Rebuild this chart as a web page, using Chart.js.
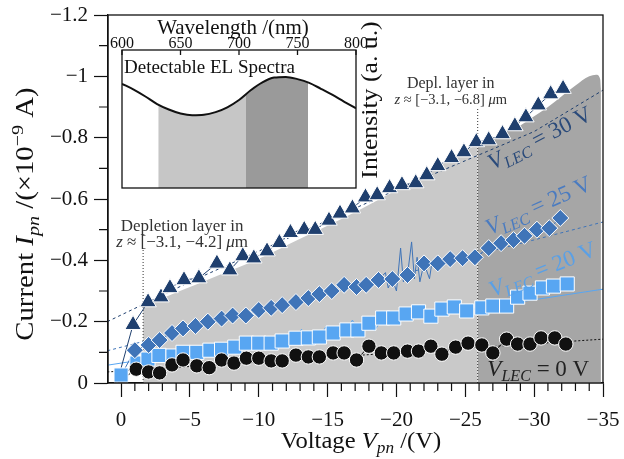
<!DOCTYPE html>
<html>
<head>
<meta charset="utf-8">
<script src="https://cdn.jsdelivr.net/npm/chart.js@4.4.0/dist/chart.umd.min.js"></script>
<style>
  html, body { margin: 0; padding: 0; background: #fff; }
  #wrap  { position: relative; width: 624px; height: 459px; }
  #main  { position: absolute; left: 0; top: 0; }
  #inset { position: absolute; left: 100px; top: 0; }
</style>
</head>
<body>
<div id="wrap">
  <canvas id="main" width="624" height="459"></canvas>
  <canvas id="inset" width="290" height="200"></canvas>
</div>
<script>
"use strict";

/* ── DADOS ──────────────────────────────── */
const xTicks = [0, -5, -10, -15, -20, -25, -30, -35];
const yTicks = [0, -0.2, -0.4, -0.6, -0.8, -1, -1.2];

// V_LEC = 30 V (triângulos)
const vTri = [-0.87,-1.96,-2.9,-3.55,-4.57,-5.65,-6.96,-7.9,-8.84,-9.64,-10.6,-11.5,-12.3,-13.3,-14.1,-15.1,-15.9,-16.8,
              -17.75,-18.6,-19.5,-20.4,-21.4,-22.2,-23.0,-24.0,-24.9,-25.8,-26.7,-27.7,-28.6,-29.4,-30.3,-31.2,-32.1];
const iTri = [-0.19,-0.264,-0.28,-0.31,-0.336,-0.342,-0.39,-0.368,-0.414,-0.407,-0.43,-0.457,-0.49,-0.50,-0.50,-0.53,-0.553,-0.57,
              -0.606,-0.613,-0.636,-0.646,-0.652,-0.678,-0.708,-0.734,-0.753,-0.786,-0.792,-0.812,-0.838,-0.867,-0.906,-0.942,-0.96];

// V_LEC = 25 V (losangos)
const vDia = [-1.0,-2.0,-2.8,-3.7,-4.5,-5.4,-6.3,-7.3,-8.1,-9.06,-10.0,-10.9,-11.7,-12.7,-13.6,-14.4,-15.3,-16.2,-17.1,
              -17.8,-18.7,-19.7,-20.8,-22.0,-23.0,-23.9,-24.8,-25.7,-26.7,-27.6,-28.5,-29.3,-30.2,-31.1,-31.9];
const iDia = [-0.107,-0.124,-0.14,-0.163,-0.178,-0.186,-0.2,-0.21,-0.22,-0.22,-0.238,-0.245,-0.254,-0.264,-0.277,-0.29,-0.30,-0.32,-0.313,
              -0.32,-0.336,-0.339,-0.352,-0.39,-0.39,-0.404,-0.407,-0.41,-0.44,-0.456,-0.466,-0.48,-0.5,-0.505,-0.538];
// picos do sinal bruto (25 V)
const vDiaSpk = [-19.2,-19.4,-20.0,-20.3,-20.5,-21.1,-21.3,-21.5,-21.7,-22.4,-22.6];
const iDiaSpk = [-0.36,-0.31,-0.30,-0.44,-0.33,-0.46,-0.34,-0.41,-0.33,-0.34,-0.40];

// V_LEC = 20 V (quadrados)
const vSq = [0,-1.15,-1.95,-2.75,-3.77,-4.5,-5.5,-6.45,-7.3,-8.26,-9.1,-10.0,-10.9,-11.7,-12.7,-13.6,-14.4,-15.4,-16.4,-17.2,
             -18.0,-19.0,-19.8,-20.7,-21.6,-22.5,-23.3,-24.2,-25.1,-26.2,-27.0,-28.0,-28.8,-29.7,-30.6,-31.4,-32.4];
const iSq = [-0.026,-0.065,-0.078,-0.09,-0.088,-0.1,-0.1,-0.107,-0.11,-0.117,-0.13,-0.13,-0.13,-0.137,-0.146,-0.147,-0.15,-0.163,-0.173,-0.173,
             -0.195,-0.212,-0.212,-0.225,-0.232,-0.218,-0.241,-0.248,-0.235,-0.245,-0.251,-0.251,-0.28,-0.293,-0.31,-0.316,-0.323];
const vSqSpk = [-12.2,-13.1,-14.9,-16.8,-18.4];
const iSqSpk = [-0.16,-0.175,-0.185,-0.205,-0.17];

// V_LEC = 0 V (círculos)
const vCir = [-1.1,-2.0,-2.8,-3.7,-4.5,-5.5,-6.4,-7.3,-8.2,-9.1,-10.0,-10.9,-11.7,-12.7,-13.6,-14.4,-15.4,-16.2,-17.1,
              -18.0,-18.9,-19.8,-20.8,-21.6,-22.5,-23.3,-24.3,-25.2,-26.2,-27.0,-28.0,-28.8,-29.7,-30.5,-31.5,-32.3];
const iCir = [-0.045,-0.036,-0.033,-0.059,-0.075,-0.056,-0.05,-0.075,-0.065,-0.081,-0.081,-0.072,-0.072,-0.091,-0.085,-0.085,-0.098,-0.098,-0.075,
              -0.12,-0.098,-0.098,-0.104,-0.104,-0.12,-0.094,-0.117,-0.13,-0.124,-0.098,-0.143,-0.127,-0.127,-0.147,-0.147,-0.127];

// ajustes (linhas tracejadas / contínua)
const vFit30 = [1, -5, -10, -15, -20, -25, -30, -35];
const iFit30 = [-0.20, -0.33, -0.43, -0.53, -0.63, -0.725, -0.82, -0.955];
const vFit   = [1, -35];
const iFit25 = [-0.105, -0.525];
const iFit20 = [-0.058, -0.306];
const iFit0  = [-0.036, -0.143];

// regiões de depleção (áreas cinza)
const vLight = [-1.6, -4, -7, -10, -13, -16, -19, -22, -25.9];
const iLight = [-0.25, -0.295, -0.35, -0.405, -0.47, -0.535, -0.605, -0.68, -0.78];
const vDark  = [-25.9, -27, -28, -29, -30, -31, -32, -33, -34, -34.5, -34.8, -34.85];
const iDark  = [-0.78, -0.80, -0.82, -0.84, -0.87, -0.90, -0.935, -0.97, -1.0, -1.005, -0.99, -0.96];
const vDepl  = [-1.6, -25.9];
const iDepl  = [-0.44, -0.90];

// inset: espectro EL
const lambda  = [600,610,620,630,640,650,660,670,680,690,700,710,720,730,740,750,760,770,780,790,800];
const intens  = [0.755,0.713,0.663,0.608,0.569,0.540,0.527,0.530,0.550,0.585,0.638,0.708,0.765,0.800,0.805,0.789,0.762,0.719,0.674,0.624,0.577];
const lamLight = [631,640,650,660,670,680,690,700,706];
const intLight = [0.605,0.569,0.540,0.527,0.530,0.550,0.585,0.638,0.68];
const lamDark  = [706,710,720,730,740,750,759];
const intDark  = [0.68,0.708,0.765,0.800,0.805,0.789,0.765];
const lamTicks = [600, 650, 700, 750, 800];

/* ── ESTILO ─────────────────────────────── */
const SERIF = '"Liberation Serif", "Times New Roman", serif';
const NAVY = "#1f3f6e", STEEL = "#3f74b8", SKY = "#58a6f2", INK = "#111";

const pts = (xs, ys) => xs.map((x, i) => ({ x, y: ys[i] }));
const raw = (xs, ys, sx = [], sy = []) =>
  [{ x: 0.3, y: 0 }, ...pts(xs, ys), ...pts(sx, sy)].sort((a, b) => b.x - a.x);
const fmt = v => v === 0 ? "0" : "\u2212" + Math.abs(v);

/* ── TEXTO COM ÍNDICES ──────────────────── */
function richText(ctx, parts, x, y, size, opt = {}) {
  const small = size * 0.7;
  const fontOf = st =>
    st === "i"  ? `italic ${size}px ${SERIF}` :
    st === "sb" ? `italic ${small}px ${SERIF}` :
    st === "sp" ? `${small}px ${SERIF}` : `${size}px ${SERIF}`;
  ctx.save();
  let w = 0;
  parts.forEach(([t, st]) => { ctx.font = fontOf(st); w += ctx.measureText(t).width; });
  ctx.translate(x, y);
  if (opt.angle) ctx.rotate(opt.angle * Math.PI / 180);
  if (opt.stretch) ctx.scale(opt.stretch, 1);
  ctx.fillStyle = opt.color || INK;
  ctx.textBaseline = "alphabetic";
  let cx = opt.align === "left" ? 0 : -w / 2;
  const base = size * 0.33;
  parts.forEach(([t, st]) => {
    ctx.font = fontOf(st);
    const dy = st === "sb" ? size * 0.22 : st === "sp" ? -size * 0.4 : 0;
    ctx.fillText(t, cx, base + dy);
    cx += ctx.measureText(t).width;
  });
  ctx.restore();
}

/* ── PLUGIN DO GRÁFICO PRINCIPAL ────────── */
const extrasMain = {
  id: "extrasMain",
  afterDraw(chart) {
    const { ctx, chartArea: a, scales: { x, y } } = chart;
    ctx.save();
    ctx.strokeStyle = INK;
    ctx.lineWidth = 1.3;
    ctx.strokeRect(a.left, a.top, a.right - a.left, a.bottom - a.top);

    // ticks menores
    ctx.lineWidth = 1.2;
    ctx.beginPath();
    for (let v = 0; v >= -35; v--) {
      if (v % 5 === 0) continue;
      const px = x.getPixelForValue(v);
      ctx.moveTo(px, a.bottom); ctx.lineTo(px, a.bottom + 8);
    }
    for (let k = 1; k <= 11; k += 2) {
      const py = y.getPixelForValue(-k / 10);
      ctx.moveTo(a.left, py); ctx.lineTo(a.left - 9, py);
    }
    ctx.stroke();
    ctx.restore();

    // títulos dos eixos
    richText(ctx, [["Voltage ", "r"], ["V", "i"], ["pn", "sb"], [" /(V)", "r"]], 361, 440, 23, { stretch: 1.07 });
    richText(ctx, [["Current ", "r"], ["I", "i"], ["pn", "sb"], [" /(\u00d710", "r"], ["\u22129", "sp"], [" A)", "r"]],
             25, 214, 25, { angle: -90, stretch: 1.15 });

    // rótulos V_LEC
    const lab = (val, vx, vy, ang, color) => richText(ctx,
      [["V", "i"], ["LEC", "sb"], [" = " + val + " V", "r"]],
      x.getPixelForValue(vx), y.getPixelForValue(vy), 23, { angle: ang, color });
    lab(30, -30.4, -0.80, -27, "#2a4a7a");
    lab(25, -30.3, -0.58, -24, "#4a7bc0");
    lab(20, -30.6, -0.372, -22, "#5aa0e6");
    lab(0,  -30.3, -0.049,   0, "#222");

    // camadas de depleção
    const c1 = x.getPixelForValue(-1.6) + 39;
    richText(ctx, [["Depletion layer in", "r"]], c1, 225, 17, { color: "#333" });
    richText(ctx, [["z", "i"], [" \u2248 [\u22123.1, \u22124.2] ", "r"], ["\u03bc", "i"], ["m", "r"]], c1, 241, 17, { color: "#333" });
    const c2 = x.getPixelForValue(-25.9) - 27;
    richText(ctx, [["Depl. layer in", "r"]], c2, 83, 16, { color: "#333" });
    richText(ctx, [["z", "i"], [" \u2248 [\u22123.1, \u22126.8] ", "r"], ["\u03bc", "i"], ["m", "r"]], c2, 99, 14.5, { color: "#333" });
  }
};

/* ── GRÁFICO PRINCIPAL ──────────────────── */
const marker = (label, xs, ys, style, r, color) => ({
  label, data: pts(xs, ys), showLine: false, order: 1,
  pointStyle: style, pointRadius: r, pointBackgroundColor: color,
  pointBorderColor: "#fff", pointBorderWidth: 1
});
const rawLine = (data, color) => ({
  data, borderColor: color, borderWidth: 1, pointRadius: 0, order: 2
});
const fitLine = (xs, ys, color, dash) => ({
  data: pts(xs, ys), borderColor: color, borderWidth: 1, borderDash: dash, pointRadius: 0, order: 3
});
const area = (xs, ys, color) => ({
  data: pts(xs, ys), backgroundColor: color, borderWidth: 0, borderColor: "rgba(0,0,0,0)",
  fill: "origin", pointRadius: 0, cubicInterpolationMode: "monotone", order: 10
});
const depl = i => ({
  data: [{ x: vDepl[i], y: 0 }, { x: vDepl[i], y: iDepl[i] }],
  borderColor: "#333", borderWidth: 1, borderDash: [1, 2], pointRadius: 0, order: 4
});

new Chart(document.getElementById("main"), {
  type: "line",
  data: {
    datasets: [
      marker("30 V", vTri, iTri, "triangle", 9.5, NAVY),
      marker("25 V", vDia, iDia, "rectRot", 8.5, STEEL),
      marker("0 V",  vCir, iCir, "circle", 7.2, INK),
      marker("20 V", vSq,  iSq,  "rect", 10, SKY),
      rawLine(raw(vTri, iTri), NAVY),
      rawLine(raw(vDia, iDia, vDiaSpk, iDiaSpk), STEEL),
      rawLine(raw(vSq, iSq, vSqSpk, iSqSpk), SKY),
      rawLine(raw(vCir, iCir), INK),
      fitLine(vFit30, iFit30, NAVY, [3, 3]),
      fitLine(vFit, iFit25, STEEL, [3, 3]),
      fitLine(vFit, iFit20, SKY, []),
      fitLine(vFit, iFit0, INK, [2, 2]),
      depl(0), depl(1),
      area(vLight, iLight, "#c9c9c9"),
      area(vDark, iDark, "#a6a6a6")
    ]
  },
  options: {
    responsive: false,
    animation: false,
    events: [],
    layout: { padding: { top: 15, right: 21, left: 0, bottom: 0 } },
    plugins: { legend: { display: false }, tooltip: { enabled: false } },
    scales: {
      x: {
        type: "linear", min: -35, max: 0.95, reverse: true,
        afterBuildTicks: s => { s.ticks = xTicks.map(v => ({ value: v })); },
        afterFit: s => { s.height = 76; s.paddingLeft = 0; s.paddingRight = 0; },
        ticks: { callback: fmt, color: INK, padding: 11, maxRotation: 0, autoSkip: false,
                 font: { size: 21, family: SERIF } },
        grid: { drawOnChartArea: false, tickLength: 14, tickColor: INK, tickWidth: 1.2 },
        border: { color: INK, width: 1.3 }
      },
      y: {
        type: "linear", min: -1.2, max: 0, reverse: true,
        afterBuildTicks: s => { s.ticks = yTicks.map(v => ({ value: v })); },
        afterFit: s => { s.width = 108; s.paddingTop = 0; s.paddingBottom = 0; },
        ticks: { callback: fmt, color: INK, padding: 6, autoSkip: false,
                 font: { size: 21, family: SERIF } },
        grid: { drawOnChartArea: false, tickLength: 14, tickColor: INK, tickWidth: 1.2 },
        border: { color: INK, width: 1.3 }
      }
    }
  },
  plugins: [extrasMain]
});

/* ── INSET: ESPECTRO ────────────────────── */
const extrasInset = {
  id: "extrasInset",
  beforeDraw(chart) {
    const { ctx, chartArea: a } = chart;
    ctx.save();
    ctx.fillStyle = "#fff";
    ctx.fillRect(a.left, a.top, a.right - a.left, a.bottom - a.top);
    ctx.restore();
  },
  afterDraw(chart) {
    const { ctx, chartArea: a, scales: { x } } = chart;
    ctx.save();
    ctx.strokeStyle = INK;
    ctx.lineWidth = 1.3;
    ctx.strokeRect(a.left, a.top, a.right - a.left, a.bottom - a.top);
    ctx.beginPath();
    lamTicks.forEach(v => {
      const px = x.getPixelForValue(v);
      ctx.moveTo(px, a.top); ctx.lineTo(px, a.top + 5);
    });
    ctx.stroke();
    ctx.restore();
    richText(ctx, [["Wavelength /(nm)", "r"]], 133, 27, 21);
    richText(ctx, [["Detectable EL Spectra", "r"]], a.left + 2, 67, 19, { align: "left" });
    richText(ctx, [["Intensity (a. u.)", "r"]], 269, 100, 23, { angle: -90, stretch: 1.12 });
  }
};

new Chart(document.getElementById("inset"), {
  type: "line",
  data: {
    datasets: [
      { data: pts(lambda, intens), borderColor: INK, borderWidth: 2, pointRadius: 0,
        cubicInterpolationMode: "monotone", order: 1 },
      { data: pts(lamLight, intLight), backgroundColor: "#c6c6c6", borderWidth: 0, fill: "origin",
        pointRadius: 0, cubicInterpolationMode: "monotone", order: 2 },
      { data: pts(lamDark, intDark), backgroundColor: "#9a9a9a", borderWidth: 0, fill: "origin",
        pointRadius: 0, cubicInterpolationMode: "monotone", order: 2 }
    ]
  },
  options: {
    responsive: false,
    animation: false,
    events: [],
    layout: { padding: { top: 0, left: 22, right: 34, bottom: 12 } },
    plugins: { legend: { display: false }, tooltip: { enabled: false } },
    scales: {
      x: {
        type: "linear", position: "top", min: 600, max: 800,
        afterBuildTicks: s => { s.ticks = lamTicks.map(v => ({ value: v })); },
        afterFit: s => { s.height = 50; s.paddingLeft = 0; s.paddingRight = 0; },
        ticks: { color: INK, padding: -3, maxRotation: 0, autoSkip: false,
                 font: { size: 16, family: SERIF } },
        grid: { drawOnChartArea: false, drawTicks: false },
        border: { display: false }
      },
      y: { display: false, min: 0, max: 1 }
    }
  },
  plugins: [extrasInset]
});
</script>
</body>
</html>
